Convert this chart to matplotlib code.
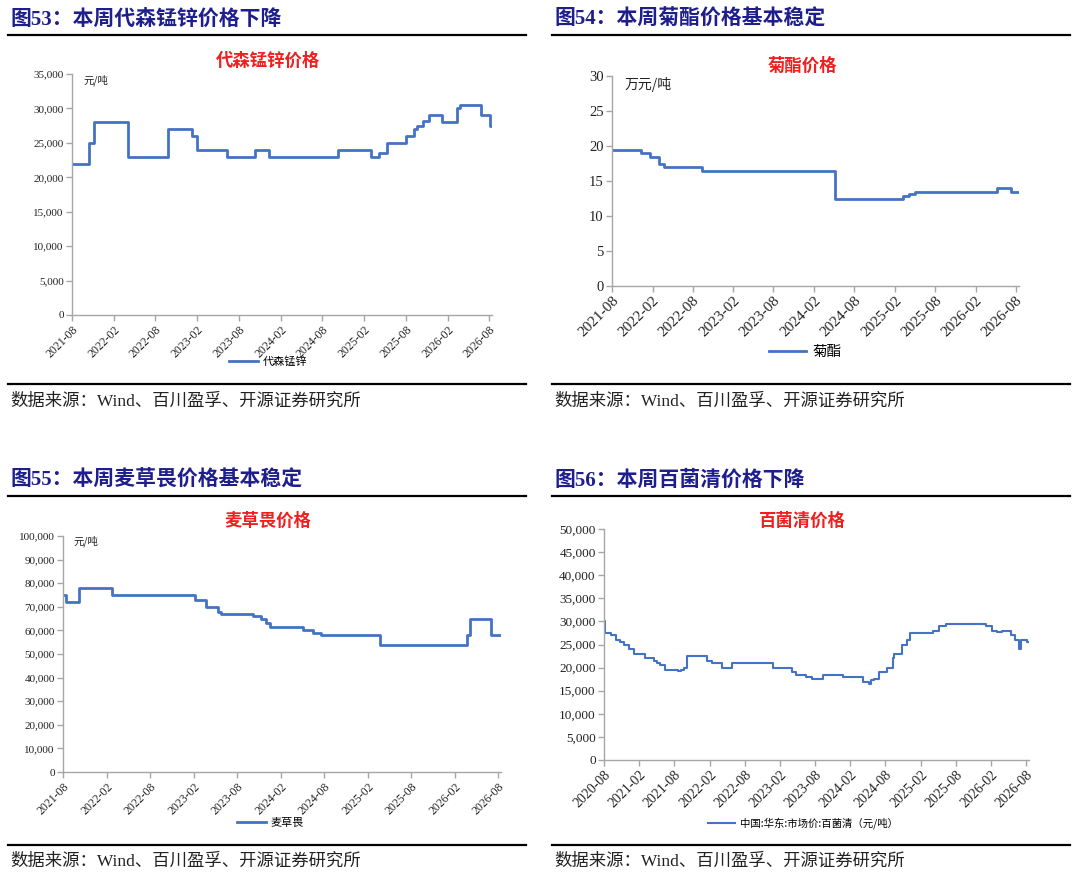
import pandas as pd
import matplotlib
matplotlib.use("Agg")
import matplotlib.pyplot as plt
from matplotlib.ticker import FuncFormatter

W, H = 1080, 885
CJK = ["Noto Sans CJK SC", "DejaVu Sans"]
SERIF = ["Liberation Serif", "Noto Sans CJK SC"]
BLUE = "#4472C4"
NAVY = "#1e1e8c"

# ---- data: step change dates and prices ----
dsmz_dates = ["2021-08-01", "2021-10-13", "2021-11-04", "2022-04-04", "2022-09-25",
              "2023-01-07", "2023-02-01", "2023-06-10", "2023-10-13", "2023-12-10",
              "2024-10-07", "2025-02-28", "2025-04-07", "2025-05-10", "2025-08-01",
              "2025-09-04", "2025-09-19", "2025-10-16", "2025-11-10", "2026-01-07",
              "2026-03-13", "2026-03-28", "2026-06-25", "2026-08-04", "2026-08-13"]
dsmz_price = [22000, 25000, 28000, 23000, 27000,
              26000, 24000, 23000, 24000, 23000,
              24000, 23000, 23500, 25000, 26000,
              27000, 27500, 28200, 29000, 28000,
              30000, 30500, 29000, 27500, 27500]

juzhi_dates = ["2021-08-01", "2021-12-10", "2022-01-19", "2022-02-28", "2022-03-25",
               "2022-09-10", "2024-05-07", "2025-03-10", "2025-04-04", "2025-05-04",
               "2026-05-10", "2026-07-13", "2026-08-16"]
juzhi_price = [19.5, 19.0, 18.5, 17.5, 17.0,
               16.5, 12.5, 12.8, 13.2, 13.4,
               14.0, 13.5, 13.5]

mcw_dates = ["2021-08-01", "2021-08-13", "2021-10-09", "2022-02-22", "2023-02-04",
             "2023-03-22", "2023-05-13", "2023-05-28", "2023-10-07", "2023-11-10",
             "2023-12-01", "2023-12-16", "2024-05-04", "2024-06-16", "2024-07-19",
             "2025-03-25", "2026-03-22", "2026-04-04", "2026-07-04", "2026-08-13"]
mcw_price = [75000, 72000, 78000, 75000, 73000,
             70000, 68000, 67000, 66000, 65000,
             63000, 61500, 60000, 59000, 58000,
             54000, 58000, 65000, 58000, 58000]

bjq_dates = ["2020-08-01", "2020-08-04", "2020-09-08", "2020-10-01", "2020-10-22",
             "2020-11-13", "2020-12-10", "2021-01-04", "2021-02-28", "2021-04-19",
             "2021-05-01", "2021-05-19", "2021-06-13", "2021-08-19", "2021-09-07",
             "2021-09-22", "2021-10-07", "2022-01-19", "2022-02-13", "2022-04-07",
             "2022-05-25", "2022-12-25", "2023-04-04", "2023-04-22", "2023-06-13",
             "2023-07-19", "2023-09-13", "2023-12-25", "2024-04-07", "2024-05-07",
             "2024-05-19", "2024-06-04", "2024-07-01", "2024-08-10", "2024-09-07",
             "2024-09-16", "2024-10-28", "2024-11-19", "2024-12-07", "2025-04-04",
             "2025-05-04", "2025-06-13", "2026-01-04", "2026-02-04", "2026-03-04",
             "2026-03-28", "2026-05-16", "2026-06-04", "2026-06-25", "2026-07-04",
             "2026-08-07", "2026-08-16"]
bjq_price = [30000, 27500, 27000, 26000, 25500,
             24800, 24000, 23000, 22000, 21500,
             21000, 20500, 19500, 19300, 19500,
             20000, 22500, 21500, 21000, 20000,
             21000, 20000, 19000, 18500, 18000,
             17500, 18500, 18000, 16800, 16500,
             17300, 17500, 19000, 20000, 22000,
             23000, 25000, 26000, 27500, 28000,
             29000, 29500, 29000, 28000, 27700,
             28000, 27000, 26000, 24000, 26000,
             25500, 25500]

headers = ["图53：本周代森锰锌价格下降", "图54：本周菊酯价格基本稳定",
           "图55：本周麦草畏价格基本稳定", "图56：本周百菌清价格下降"]
titles = ["代森锰锌价格", "菊酯价格", "麦草畏价格", "百菌清价格"]
legends = ["代森锰锌", "菊酯", "麦草畏", "中国:华东:市场价:百菌清（元/吨）"]
units = ["元/吨", "万元/吨", "元/吨", None]
source = "数据来源：Wind、百川盈孚、开源证券研究所"


def fx(x):
    return x / W


def fy(y):
    return 1 - y / H


def rect(l, t, r, b):
    return [l / W, 1 - b / H, (r - l) / W, (b - t) / H]


fig = plt.figure(figsize=(W / 100, H / 100), dpi=100)

# header / rules / source for each block
blocks = [(8, 526, 20, 35, 384, 402), (552, 1070, 20, 35, 384, 402),
          (8, 526, 481, 496, 845, 862), (552, 1070, 481, 496, 845, 862)]
for i, (x0, x1, yh, yr, yb, ys) in enumerate(blocks):
    fig.text(fx(x0 + 2), fy(yh), headers[i], family=SERIF, fontweight="bold",
             fontsize=15, color=NAVY, va="center", ha="left")
    fig.add_artist(plt.Line2D([fx(x0), fx(x1)], [fy(yr), fy(yr)], color="black", lw=1.6))
    fig.add_artist(plt.Line2D([fx(x0), fx(x1)], [fy(yb), fy(yb)], color="black", lw=1.6))
    fig.text(fx(x0 + 2), fy(ys), source, family=SERIF, fontsize=12.5,
             color="#222222", va="center", ha="left")

panels = [
    dict(rect=rect(72, 74, 492, 315), d=dsmz_dates, v=dsmz_price, ymax=35000, step=5000,
         start="2021-08-01", end="2026-08-13", ytf=8, xtf=8.5, lw=2.0, title_xy=(268, 61),
         unit_xy=(83, 80), unit_fs=7.5, leg_xy=(268, 362), leg_fs=8, comma=True),
    dict(rect=rect(612, 76, 1019, 286), d=juzhi_dates, v=juzhi_price, ymax=30, step=5,
         start="2021-08-01", end="2026-08-16", ytf=10.5, xtf=11, lw=2.0, title_xy=(802, 66),
         unit_xy=(625, 84), unit_fs=10, leg_xy=(805, 352), leg_fs=10.5, comma=False),
    dict(rect=rect(63, 536, 501, 772), d=mcw_dates, v=mcw_price, ymax=100000, step=10000,
         start="2021-08-01", end="2026-08-13", ytf=8, xtf=8.5, lw=2.0, title_xy=(268, 521),
         unit_xy=(73, 541), unit_fs=7.5, leg_xy=(270, 823), leg_fs=8, comma=True),
    dict(rect=rect(604, 529, 1029, 760), d=bjq_dates, v=bjq_price, ymax=50000, step=5000,
         start="2020-08-01", end="2026-08-16", ytf=9.5, xtf=10, lw=1.5, title_xy=(802, 521),
         unit_xy=None, unit_fs=8, leg_xy=(803, 823), leg_fs=7.5, comma=True),
]

for i, p in enumerate(panels):
    ax = fig.add_axes(p["rect"])
    dates = pd.to_datetime(p["d"])
    ax.step(dates, p["v"], where="post", color=BLUE, lw=p["lw"], label=legends[i])
    ax.set_ylim(0, p["ymax"])
    ax.set_yticks(range(0, p["ymax"] + 1, p["step"]))
    if p["comma"]:
        ax.yaxis.set_major_formatter(FuncFormatter(lambda v, pos: f"{v:,.0f}"))
    else:
        ax.yaxis.set_major_formatter(FuncFormatter(lambda v, pos: f"{v:.0f}"))
    ax.set_xlim(pd.Timestamp(p["start"]), pd.Timestamp(p["end"]))
    ticks = pd.date_range(p["start"], p["end"], freq="6MS")
    ax.set_xticks(ticks)
    ax.set_xticklabels([t.strftime("%Y-%m") for t in ticks], rotation=45,
                       ha="right", rotation_mode="anchor", family="Liberation Serif",
                       fontsize=p["xtf"], color="#222222")
    for lab in ax.get_yticklabels():
        lab.set_family("Liberation Serif")
        lab.set_fontsize(p["ytf"])
        lab.set_color("#222222")
    for s in ["top", "right"]:
        ax.spines[s].set_visible(False)
    for s in ["left", "bottom"]:
        ax.spines[s].set_color("#a6a6a6")
        ax.spines[s].set_linewidth(1.0)
    ax.tick_params(axis="both", color="#a6a6a6", length=4, width=1.0, pad=2)
    ax.patch.set_alpha(0)

    fig.text(fx(p["title_xy"][0]), fy(p["title_xy"][1]), titles[i], family=CJK,
             fontweight="bold", fontsize=12.5, color="#f01e1e", ha="center", va="center")
    if units[i]:
        fig.text(fx(p["unit_xy"][0]), fy(p["unit_xy"][1]), units[i], family=CJK,
                 fontsize=p["unit_fs"], color="#222222", ha="left", va="center")
    ax.legend(loc="center", bbox_to_anchor=(fx(p["leg_xy"][0]), fy(p["leg_xy"][1])),
              bbox_transform=fig.transFigure, frameon=False, handlelength=2.6,
              handletextpad=0.4, prop={"family": CJK, "size": p["leg_fs"]})

fig.savefig("out.png", dpi=100, facecolor="white")
